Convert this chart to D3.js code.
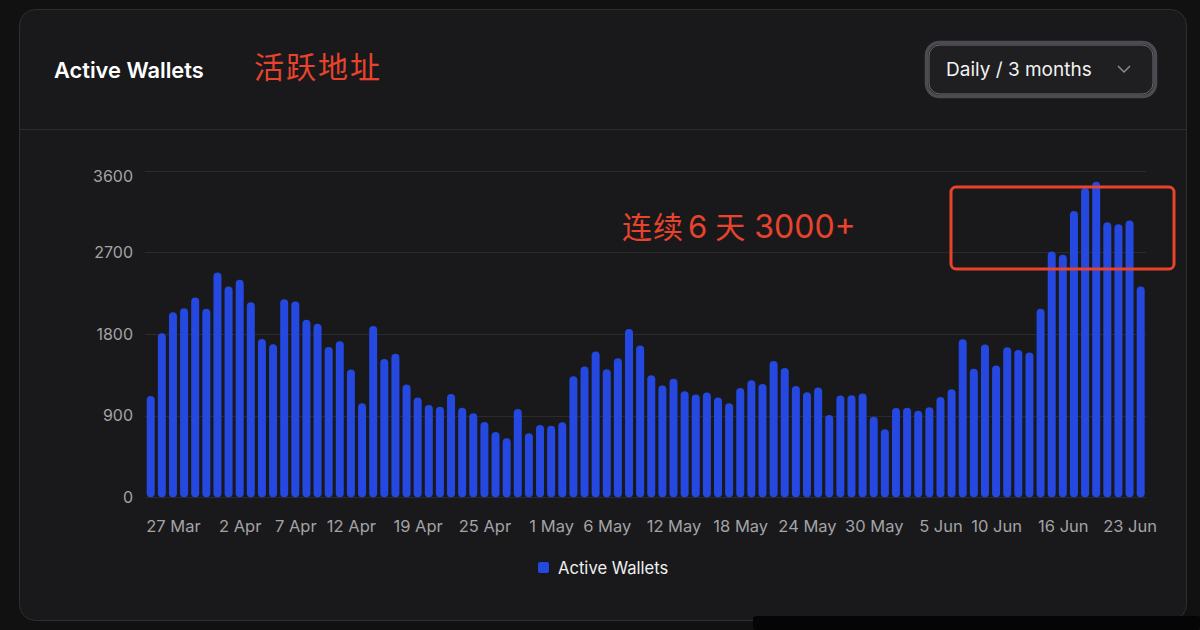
<!DOCTYPE html>
<html>
<head>
<meta charset="utf-8">
<title>Active Wallets</title>
<script src="https://cdn.jsdelivr.net/npm/d3@7"></script>
<style>
  body { margin: 0; background: #111112; }
  svg { display: block; }
  .tick text { font-family: Inter, "Noto Sans", sans-serif; }
</style>
</head>
<body>
<svg id="chart" width="1200" height="630"></svg>
<script>
// days shown on the category axis (two days have no bar)
var days = [
  "25 Mar","26 Mar","27 Mar","28 Mar","29 Mar","30 Mar","31 Mar",
  "1 Apr","2 Apr","3 Apr","4 Apr","5 Apr","6 Apr","7 Apr","8 Apr","9 Apr","10 Apr",
  "11 Apr","12 Apr","13 Apr","14 Apr","15 Apr","17 Apr","18 Apr","19 Apr","20 Apr",
  "21 Apr","22 Apr","23 Apr","24 Apr","25 Apr","26 Apr","27 Apr","28 Apr","29 Apr","30 Apr",
  "1 May","2 May","3 May","4 May","5 May","6 May","7 May","8 May","9 May","10 May",
  "11 May","12 May","13 May","14 May","15 May","16 May","17 May","18 May","19 May","20 May",
  "21 May","22 May","23 May","24 May","25 May","26 May","27 May","28 May","29 May","30 May","31 May",
  "1 Jun","2 Jun","3 Jun","4 Jun","5 Jun","6 Jun","7 Jun","8 Jun","9 Jun","10 Jun",
  "11 Jun","12 Jun","13 Jun","14 Jun","15 Jun","16 Jun","17 Jun","18 Jun","19 Jun",
  "21 Jun","22 Jun","23 Jun","24 Jun"
];

var activeWallets = [
  1117, 1809, 2040, 2085, 2202, 2077, 2478, 2323, 2397, 2151,
  1746, 1688, 2184, 2158, 1956, 1912, 1658, 1721, 1408, 1037,
  1889, 1525, 1581, 1242, 1100, 1018,  999, 1139,  988,  926,
   830,  720,  651,  974,  706,  797,  790,  827, 1334, 1441,
  1606, 1412, 1533, 1856, 1672, 1345, 1231, 1308, 1169, 1132,
  1154, 1099, 1037, 1206, 1290, 1248, 1503, 1426, 1228, 1158,
  1209,  908, 1121, 1125, 1143,  889,  750,  985,  988,  955,
   993, 1106, 1191, 1743, 1418, 1683, 1452, 1655, 1625, 1595,
  2077, 2709, 2673, 3155, 3410, 3478, 3033, 3011, 3051, 2323
];

var xTickLabels = ["27 Mar","2 Apr","7 Apr","12 Apr","19 Apr","25 Apr","1 May","6 May",
  "12 May","18 May","24 May","30 May","5 Jun","10 Jun","16 Jun","23 Jun"];
var yTickValues = [0, 900, 1800, 2700, 3600];

var svg = d3.select("#chart");
var blue = "#2448e0";
var red = "#e8432c";

// card
svg.append("rect")
  .attr("x", 19.5).attr("y", 9.5)
  .attr("width", 1167).attr("height", 611)
  .attr("rx", 16)
  .attr("fill", "#19191b")
  .attr("stroke", "#2f2f32");

svg.append("line")
  .attr("x1", 20).attr("x2", 1186)
  .attr("y1", 129.5).attr("y2", 129.5)
  .attr("stroke", "#2c2c2f");

// header
svg.append("text")
  .attr("x", 54).attr("y", 78)
  .attr("font-family", "Inter, sans-serif")
  .attr("font-weight", 600)
  .attr("font-size", 21.8)
  .attr("fill", "#ffffff")
  .text("Active Wallets");

svg.append("text")
  .attr("x", 254).attr("y", 78)
  .attr("font-family", "'Noto Sans CJK SC', sans-serif")
  .attr("font-size", 30)
  .attr("letter-spacing", 2)
  .attr("fill", red)
  .text("活跃地址");

// dropdown
svg.append("rect")
  .attr("x", 926.5).attr("y", 42.5)
  .attr("width", 229).attr("height", 54)
  .attr("rx", 13)
  .attr("fill", "#1f1f22")
  .attr("stroke", "#4b4b51")
  .attr("stroke-width", 3.5);
svg.append("rect")
  .attr("x", 929).attr("y", 45)
  .attr("width", 224).attr("height", 49)
  .attr("rx", 11)
  .attr("fill", "none")
  .attr("stroke", "#6a6a70")
  .attr("stroke-width", 1);
svg.append("text")
  .attr("x", 946).attr("y", 76)
  .attr("font-family", "Inter, sans-serif")
  .attr("font-size", 19)
  .attr("fill", "#f2f2f2")
  .text("Daily / 3 months");
svg.append("path")
  .attr("d", "M1118,66 L1124,72 L1130,66")
  .attr("fill", "none")
  .attr("stroke", "#8a8a90")
  .attr("stroke-width", 1.5);

// scales
var x = d3.scalePoint()
  .domain(days)
  .range([145.15, 1146.25])
  .padding(0.5);

var y = d3.scaleLinear()
  .domain([0, 3600])
  .range([497.3, 170.7]);

// grid
svg.append("g")
  .selectAll("line")
  .data(yTickValues)
  .enter()
  .append("line")
  .attr("x1", 145).attr("x2", 1146)
  .attr("y1", function(d) { return Math.round(y(d)) + 0.5; })
  .attr("y2", function(d) { return Math.round(y(d)) + 0.5; })
  .attr("stroke", "#2b2b2e");

// y axis
var yAxis = svg.append("g")
  .attr("transform", "translate(145,0)")
  .call(d3.axisLeft(y).tickValues(yTickValues).tickFormat(d3.format("d")).tickSize(0).tickPadding(12));
yAxis.select(".domain").remove();
yAxis.selectAll("text")
  .attr("font-size", 16)
  .attr("fill", "#a3a3a8");
// top label sits a little under its grid line, as in the original
yAxis.selectAll(".tick")
  .filter(function(d) { return d === 3600; })
  .select("text")
  .attr("y", 6);

// x axis
var xAxis = svg.append("g")
  .attr("transform", "translate(0," + y(0) + ")")
  .call(d3.axisBottom(x).tickValues(xTickLabels).tickSize(0).tickPadding(23));
xAxis.select(".domain").remove();
xAxis.selectAll("text")
  .attr("font-size", 16.5)
  .attr("fill", "#a3a3a8");

// bars
svg.append("g")
  .selectAll("rect")
  .data(activeWallets)
  .enter()
  .append("rect")
  .attr("x", function(d, i) { return x(days[i]) - 4; })
  .attr("y", function(d) { return y(d); })
  .attr("width", 8)
  .attr("height", function(d) { return y(0) - y(d); })
  .attr("rx", 4)
  .attr("fill", blue);

// annotation
var note = svg.append("text")
  .attr("x", 622).attr("y", 238)
  .attr("font-family", "'Noto Sans CJK SC', sans-serif")
  .attr("font-size", 30)
  .attr("fill", red);
note.append("tspan").attr("letter-spacing", 1).text("连续");
note.append("tspan").attr("font-family", "Inter, sans-serif").attr("font-size", 31).attr("dx", 4).text("6");
note.append("tspan").attr("dx", 8).text("天");
note.append("tspan").attr("font-family", "Inter, sans-serif").attr("font-size", 32).attr("dx", 9).text("3000+");

svg.append("rect")
  .attr("x", 951).attr("y", 187)
  .attr("width", 223).attr("height", 82)
  .attr("rx", 5)
  .attr("fill", "none")
  .attr("stroke", red)
  .attr("stroke-width", 3);

// legend
svg.append("rect")
  .attr("x", 538).attr("y", 562)
  .attr("width", 11).attr("height", 11)
  .attr("rx", 2)
  .attr("fill", blue);
svg.append("text")
  .attr("x", 558).attr("y", 574)
  .attr("font-family", "Inter, sans-serif")
  .attr("font-size", 16.6)
  .attr("fill", "#f0f0f0")
  .text("Active Wallets");

// dark strip over the lower right corner
svg.append("rect")
  .attr("x", 753).attr("y", 616)
  .attr("width", 447).attr("height", 14)
  .attr("rx", 3)
  .attr("fill", "#050505");
</script>
</body>
</html>
